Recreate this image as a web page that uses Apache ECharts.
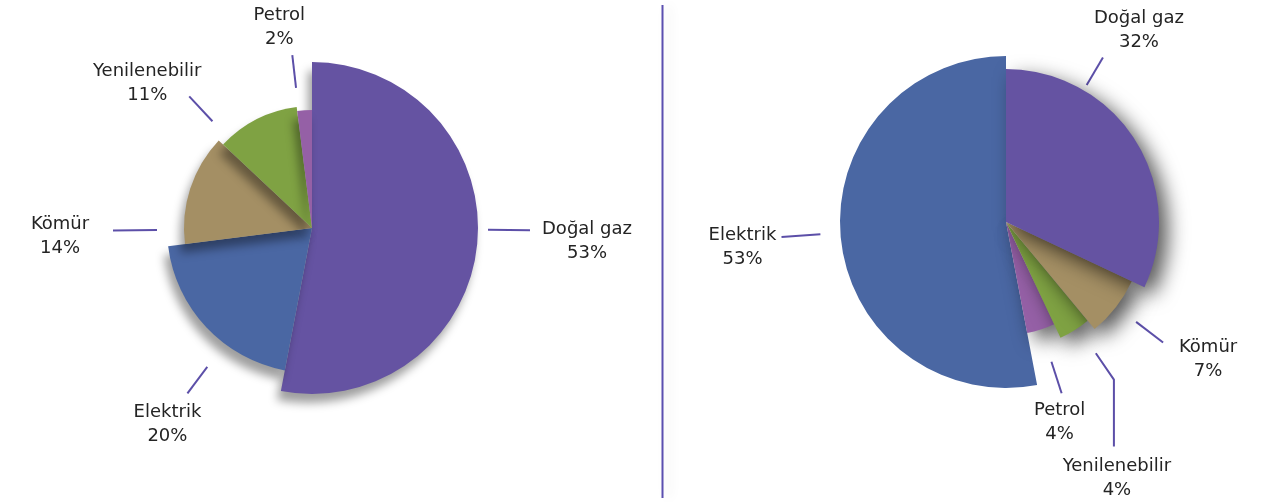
<!DOCTYPE html>
<html>
<head>
<meta charset="utf-8">
<script src="https://cdn.jsdelivr.net/npm/echarts@6/dist/echarts.min.js"></script>
<style>
  html, body { margin: 0; padding: 0; background: #ffffff; }
  #chart { width: 1270px; height: 502px; }
</style>
</head>
<body>
<div id="chart"></div>
<script>
// Energy mix, two pies (left and right panels)
const leftCategories = ['Doğal gaz', 'Elektrik', 'Kömür', 'Yenilenebilir', 'Petrol'];
const leftValues = [53, 20, 14, 11, 2];

const rightCategories = ['Doğal gaz', 'Kömür', 'Yenilenebilir', 'Petrol', 'Elektrik'];
const rightValues = [32, 7, 4, 4, 53];

// Styling
const sourceColors = {
  'Doğal gaz': '#6553a2',
  'Elektrik': '#4a67a3',
  'Kömür': '#a48f64',
  'Yenilenebilir': '#7fa243',
  'Petrol': '#9560a6'
};
const leaderColor = '#5c4fa8';
const textColor = '#242424';
const fontFamily = '"DejaVu Sans", "Noto Sans", sans-serif';

// Per-panel geometry: slice outer radius, leader line (direction in degrees,
// gap from the slice edge, length, optional vertical drop), label offset from
// the leader end, and the order in which slices are stacked.
const leftLayout = {
  center: [312, 228],
  radius: { 'Doğal gaz': 166, 'Elektrik': 145, 'Kömür': 128, 'Yenilenebilir': 122, 'Petrol': 118 },
  leader: {
    'Doğal gaz':     { angle: -0.6, gap: 10, len: 42, tx: 57, ty: 11 },
    'Elektrik':      { angle: -127, gap: 29, len: 33, tx: -20, ty: 31 },
    'Kömür':         { angle: 180.7, gap: 27, len: 44, tx: -53, ty: 6 },
    'Yenilenebilir': { angle: 133, gap: 24, len: 34, tx: -42, ty: -13 },
    'Petrol':        { angle: 96.5, gap: 23, len: 33, tx: -13, ty: -28 }
  },
  order: ['Doğal gaz', 'Elektrik', 'Kömür', 'Yenilenebilir', 'Petrol'],
  shadow: { blur: 10, color: 'rgba(0,0,0,0.38)', x: -4, y: 9 },
  noShadow: []
};
const rightLayout = {
  center: [1006, 222],
  radius: { 'Doğal gaz': 153, 'Kömür': 139, 'Yenilenebilir': 128, 'Petrol': 113, 'Elektrik': 166 },
  leader: {
    'Doğal gaz':     { angle: 59.5, gap: 6, len: 32, tx: 36, ty: -27 },
    'Kömür':         { angle: -37.5, gap: 25, len: 34, tx: 45, ty: 17 },
    'Yenilenebilir': { angle: -55.6, gap: 31, len: 32, drop: 67, tx: 3, ty: 32 },
    'Petrol':        { angle: -72, gap: 34, len: 33, tx: -2, ty: 29 },
    'Elektrik':      { angle: 183.8, gap: 20, len: 39, tx: -39, ty: 10 }
  },
  order: ['Elektrik', 'Petrol', 'Yenilenebilir', 'Kömür', 'Doğal gaz'],
  shadow: { blur: 20, color: 'rgba(0,0,0,0.65)', x: 9, y: 8 },
  noShadow: ['Elektrik']
};

// Detached leader line pointing into the slice, label centred past its end
function labelPlacer(center, r, opt) {
  return function (p) {
    if (p.dataIndex !== 0) return {};
    const a = opt.angle * Math.PI / 180;
    const ux = Math.cos(a), uy = -Math.sin(a);
    const s = [center[0] + ux * (r + opt.gap), center[1] + uy * (r + opt.gap)];
    const e = [s[0] + ux * opt.len, s[1] + uy * opt.len];
    const pts = [s, e];
    let end = e;
    if (opt.drop) {
      end = [e[0], e[1] + opt.drop];
      pts.push(end);
    }
    return {
      x: end[0] + opt.tx,
      y: end[1] + opt.ty,
      align: 'center',
      verticalAlign: 'middle',
      labelLinePoints: pts
    };
  };
}

// One pie series per slice, so each slice can carry its own outer radius
function buildPanel(categories, values, layout) {
  const total = values.reduce((s, v) => s + v, 0);
  const starts = {};
  let cum = 0;
  categories.forEach((c, i) => { starts[c] = cum; cum += values[i]; });
  return layout.order.map(name => {
    const i = categories.indexOf(name);
    const v = values[i];
    const r = layout.radius[name];
    const sh = layout.noShadow.indexOf(name) >= 0 ? null : layout.shadow;
    return {
      type: 'pie',
      name: name,
      center: layout.center,
      radius: [0, r],
      startAngle: 90 - 360 * starts[name] / total,
      clockwise: true,
      avoidLabelOverlap: false,
      animation: false,
      silent: true,
      labelLayout: labelPlacer(layout.center, r, layout.leader[name]),
      labelLine: { show: true, length: 20, length2: 0, lineStyle: { color: leaderColor, width: 2 } },
      label: {
        show: true,
        position: 'outside',
        formatter: p => p.name + '\n' + p.value + '%',
        color: textColor,
        fontFamily: fontFamily,
        fontSize: 18,
        lineHeight: 24
      },
      data: [
        {
          name: name,
          value: v,
          itemStyle: Object.assign(
            { color: sourceColors[name] },
            sh ? { shadowBlur: sh.blur, shadowColor: sh.color, shadowOffsetX: sh.x, shadowOffsetY: sh.y } : {}
          )
        },
        {
          name: '',
          value: total - v,
          itemStyle: { color: 'rgba(0,0,0,0)' },
          label: { show: false },
          labelLine: { show: false }
        }
      ]
    };
  });
}

const chart = echarts.init(document.getElementById('chart'), null, { renderer: 'canvas' });
chart.setOption({
  backgroundColor: '#ffffff',
  animation: false,
  graphic: [
    {
      type: 'line',
      shape: { x1: 662.5, y1: 5, x2: 662.5, y2: 498 },
      style: { stroke: '#5b4fb0', lineWidth: 2, shadowBlur: 12, shadowColor: 'rgba(0,0,0,0.12)', shadowOffsetX: 6 }
    }
  ],
  series: buildPanel(leftCategories, leftValues, leftLayout)
    .concat(buildPanel(rightCategories, rightValues, rightLayout))
});
</script>
</body>
</html>
